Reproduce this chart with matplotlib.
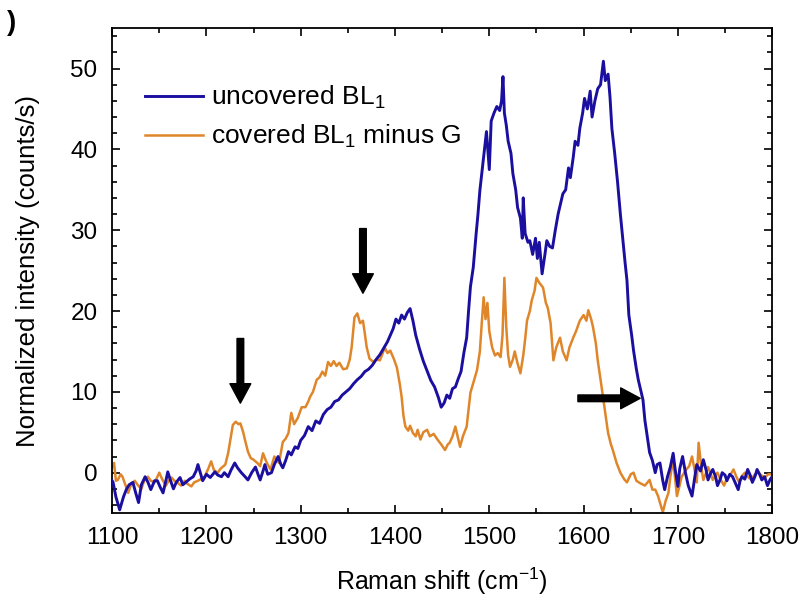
#!/usr/bin/env python3
"""Raman spectra: uncovered BL1 vs covered BL1 minus G."""

import matplotlib
matplotlib.use('Agg')
import matplotlib.pyplot as plt
from matplotlib.ticker import MultipleLocator


# uncovered BL1 (blue)
blue_x = [1100, 1101, 1104, 1108, 1112, 1115, 1118, 1122, 1125, 1128, 1131, 1135, 1138, 1141, 1145,
          1148, 1151, 1154, 1157, 1159, 1162, 1165, 1168, 1172, 1175, 1178, 1182, 1186, 1189, 1191,
          1194, 1196, 1200, 1204, 1209, 1212, 1216, 1219, 1223, 1226, 1230, 1233, 1237, 1241, 1244,
          1248, 1252, 1255, 1257, 1260, 1262, 1265, 1269, 1272, 1276, 1279, 1281, 1284, 1287, 1290,
          1294, 1297, 1300, 1304, 1308, 1312, 1316, 1320, 1324, 1328, 1332, 1336, 1340, 1344, 1348,
          1352, 1356, 1360, 1364, 1368, 1372, 1376, 1380, 1384, 1388, 1392, 1395, 1398, 1401, 1404,
          1407, 1410, 1413, 1416, 1419, 1422, 1426, 1430, 1434, 1438, 1442, 1446, 1449, 1452, 1455,
          1458, 1461, 1464, 1467, 1470, 1473, 1476, 1478, 1480, 1483, 1486, 1488, 1490, 1493, 1495,
          1497, 1500, 1502, 1505, 1508, 1511, 1513, 1514.5, 1516, 1518, 1520, 1523, 1525, 1528, 1530,
          1533, 1535, 1536, 1538, 1541, 1543, 1546, 1549, 1551, 1553, 1556, 1559, 1561, 1564, 1567,
          1570, 1573, 1576, 1578, 1581, 1584, 1586, 1589, 1591, 1594, 1596, 1599, 1601, 1604, 1607,
          1609, 1612, 1615, 1618, 1621, 1623, 1626, 1628, 1630, 1633, 1636, 1639, 1641, 1644, 1646,
          1648, 1651, 1653, 1656, 1658, 1661, 1663, 1665, 1667, 1670, 1673, 1676, 1678, 1681, 1684,
          1686, 1689, 1692, 1695, 1697, 1700, 1702, 1705, 1708, 1711, 1715, 1718, 1720, 1724, 1727,
          1730, 1732, 1735, 1737, 1740, 1742, 1745, 1747, 1750, 1752, 1755, 1758, 1761, 1764, 1766,
          1768, 1771, 1774, 1777, 1779, 1782, 1784, 1787, 1789, 1792, 1795, 1798, 1800]
blue_y = [-1.0, -1.2, -3.0, -4.6, -3.0, -2.1, -1.5, -1.2, -2.5, -3.7, -1.5, -0.5, -1.2, -2.1, -1.0,
          -1.0, -1.8, -2.5, -1.0, 0.1, -1.0, -2.0, -1.2, -0.6, -1.5, -1.2, -0.8, -0.5, 0.2, 1.0,
          -0.2, -1.0, -0.2, -0.6, 0.1, -0.3, -0.5, 0.0, -0.5, 0.3, 1.2, 0.6, 0.0, -0.5, -0.9,
          0.0, 0.7, -0.3, -0.9, 0.2, 1.0, -0.2, 0.0, 1.0, 2.0, 1.0, 0.6, 1.5, 2.6, 2.2,
          3.2, 3.0, 4.0, 4.6, 5.7, 5.2, 6.4, 6.1, 7.2, 7.8, 8.1, 8.8, 9.0, 9.6, 10.0,
          10.4, 11.0, 11.5, 11.9, 12.5, 12.8, 13.3, 14.0, 14.6, 15.4, 16.2, 17.0, 17.8, 19.0, 18.5,
          19.5, 19.0, 19.8, 20.3, 18.8, 17.0, 15.3, 13.8, 12.6, 11.4, 10.6, 9.3, 8.1, 8.6, 9.6,
          9.2, 10.4, 10.6, 11.6, 12.5, 14.8, 16.7, 20.0, 23.0, 25.4, 29.5, 32.0, 34.9, 38.0, 40.0,
          42.2, 37.5, 43.5, 44.5, 45.3, 44.8, 46.0, 49.0, 44.5, 43.0, 41.0, 39.5, 37.0, 35.0, 32.8,
          31.5, 29.0, 34.0, 29.6, 28.5, 28.7, 27.0, 29.0, 26.5, 28.5, 24.6, 27.0, 28.7, 28.0, 27.8,
          30.0, 32.0, 33.5, 34.5, 35.0, 37.7, 36.5, 39.0, 41.0, 40.5, 42.6, 44.5, 46.3, 45.0, 47.2,
          44.0, 46.0, 47.5, 48.0, 50.9, 48.5, 49.3, 46.5, 42.6, 39.5, 36.0, 32.0, 29.6, 26.0, 23.8,
          19.5, 17.0, 15.1, 12.8, 11.5, 10.0, 9.0, 6.5, 4.9, 2.5, 1.5, 0.0, 1.0, 1.2, -1.0,
          -2.1, -0.5, 0.7, 2.4, 0.5, -1.7, 0.5, 2.0, 0.0, -1.6, -2.9, -0.5, 1.0, 0.2, 1.6,
          0.3, -0.9, 0.0, 0.4, -0.5, -1.6, -0.8, 0.0, -0.3, -1.0, -0.2, -0.5, -1.3, -2.1, -1.0,
          -0.5, -0.8, 0.4, -0.4, -1.2, -0.4, 0.4, -0.3, -0.9, -0.5, -1.6, -0.8, -0.5]

# covered BL1 minus G (orange)
orange_x = [1100, 1102, 1104, 1106, 1109, 1111, 1114, 1117, 1120, 1124, 1127, 1131, 1134, 1138, 1141,
            1145, 1148, 1150, 1153, 1157, 1160, 1163, 1166, 1170, 1173, 1177, 1180, 1184, 1187, 1191,
            1194, 1198, 1202, 1205, 1208, 1212, 1215, 1217, 1220, 1223, 1226, 1228, 1231, 1234, 1236,
            1239, 1241, 1244, 1247, 1250, 1254, 1257, 1260, 1263, 1265, 1268, 1272, 1275, 1277, 1281,
            1284, 1287, 1290, 1293, 1297, 1301, 1305, 1308, 1310, 1313, 1317, 1320, 1323, 1326, 1329,
            1332, 1335, 1338, 1341, 1345, 1349, 1352, 1354, 1357, 1360, 1363, 1366, 1368, 1370, 1373,
            1377, 1380, 1384, 1387, 1389, 1392, 1395, 1399, 1402, 1405, 1407, 1409, 1411, 1414, 1416,
            1419, 1422, 1424, 1427, 1430, 1434, 1437, 1441, 1445, 1449, 1453, 1456, 1458, 1461, 1464,
            1467, 1469, 1472, 1476, 1480, 1484, 1487, 1490, 1492, 1494, 1496, 1498, 1500, 1503, 1506,
            1509, 1512, 1514, 1516, 1518, 1520, 1522, 1525, 1527, 1530, 1533, 1536, 1538, 1540, 1543,
            1545, 1548, 1550, 1553, 1557, 1560, 1562, 1565, 1568, 1571, 1575, 1578, 1582, 1585, 1589,
            1592, 1596, 1600, 1603, 1605, 1608, 1610, 1613, 1615, 1618, 1621, 1624, 1626, 1629, 1631,
            1635, 1639, 1643, 1646, 1650, 1653, 1656, 1660, 1665, 1670, 1673, 1676, 1679, 1681, 1684,
            1687, 1690, 1692, 1695, 1699, 1702, 1704, 1709, 1712, 1715, 1718, 1720, 1722, 1725, 1727,
            1730, 1732, 1735, 1737, 1740, 1742, 1745, 1749, 1751, 1754, 1757, 1759, 1762, 1765, 1768,
            1771, 1774, 1778, 1781, 1785, 1788, 1792, 1796, 1800]
orange_y = [0.7, 1.2, -1.0, -0.9, -0.2, -0.5, -1.5, -2.5, -1.5, -1.0, -1.5, -2.0, -1.0, -0.5, -1.0,
            -1.2, -0.5, 0.0, -0.8, -1.6, -1.0, -0.6, -1.0, -1.3, -1.6, -1.0, -1.4, -1.7, -1.2, -1.0,
            -0.8, -0.5, 0.5, 1.4, 0.3, 0.0, 0.5, 0.7, 1.0, 2.4, 4.5, 5.9, 6.3, 6.0, 6.1,
            5.0, 4.0, 2.6, 1.8, 1.6, 1.2, 0.8, 2.4, 1.5, 1.0, 0.4, 2.0, 1.5, 1.2, 3.8,
            4.2, 4.9, 7.4, 6.0, 6.8, 8.1, 8.1, 8.8, 9.4, 10.0, 11.5, 11.8, 12.5, 12.0, 13.7,
            13.2, 13.8, 13.2, 13.6, 12.8, 12.9, 14.0, 15.5, 19.2, 19.7, 18.5, 18.8, 17.2, 15.5, 14.1,
            13.7, 14.0, 13.9, 14.8, 15.5, 14.8, 15.1, 14.0, 13.0, 11.0, 9.4, 7.0, 5.7, 5.2, 5.8,
            4.9, 4.5, 5.3, 4.1, 5.0, 5.3, 4.5, 4.8, 4.1, 3.5, 2.8, 3.5, 3.7, 4.5, 5.7,
            4.2, 3.2, 4.5, 5.7, 9.9, 11.5, 12.7, 15.0, 18.5, 21.7, 19.0, 21.0, 17.5, 15.5, 14.5,
            14.8, 14.3, 17.0, 24.1, 18.0, 14.5, 13.1, 14.0, 15.0, 13.5, 12.3, 14.5, 16.5, 18.8, 20.0,
            21.3, 22.5, 24.1, 23.5, 22.9, 21.0, 20.4, 18.5, 13.9, 15.5, 16.7, 15.0, 13.9, 15.5, 16.7,
            17.5, 18.8, 19.5, 18.8, 20.1, 19.0, 18.0, 16.0, 13.9, 11.5, 9.0, 6.5, 4.9, 3.5, 2.8,
            1.2, 0.0, -0.8, -1.2, -0.2, 0.0, -1.0, -1.3, -1.6, -0.9, -2.1, -2.1, -2.9, -3.7, -4.9,
            -3.5, -2.5, -0.5, 1.6, -2.9, -1.5, -0.5, 0.4, 0.8, 2.0, 0.2, -1.2, 3.7, 0.5, -0.9,
            0.0, 0.7, -0.2, -0.9, -0.3, 0.0, -0.8, -1.6, -1.0, -0.5, 0.0, 0.4, -0.5, -1.2, -0.4,
            0.0, -0.5, -0.9, -0.3, 0.1, -0.3, -0.6, -0.2, -0.2]

# arrows: (tail x, tail y, tip x, tip y)
arrows = [(1236, 16.6, 1236, 8.6),
          (1366, 30.2, 1366, 22.2),
          (1594, 9.2, 1660, 9.2)]

BLUE = '#1b0fa0'
ORANGE = '#e0862a'

plt.rcParams['font.family'] = ['Liberation Sans', 'DejaVu Sans']
plt.rcParams['mathtext.fontset'] = 'custom'
plt.rcParams['mathtext.rm'] = 'Liberation Sans'
plt.rcParams['mathtext.it'] = 'Liberation Sans:italic'


def main():
    fig = plt.figure(figsize=(8.01, 5.98), dpi=100)
    ax = fig.add_axes([0.140, 0.142, 0.824, 0.811])

    ax.plot(blue_x, blue_y, color=BLUE, linewidth=2.1, label='uncovered BL$_1$', zorder=3)
    ax.plot(orange_x, orange_y, color=ORANGE, linewidth=1.8, label='covered BL$_1$ minus G', zorder=2)

    for x0, y0, x1, y1 in arrows:
        ax.annotate('', xy=(x1, y1), xytext=(x0, y0),
                    arrowprops=dict(facecolor='black', edgecolor='black',
                                    width=4.8, headwidth=15, headlength=14), zorder=5)

    ax.set_xlim(1100, 1800)
    ax.set_ylim(-5, 55)
    ax.xaxis.set_major_locator(MultipleLocator(100))
    ax.xaxis.set_minor_locator(MultipleLocator(50))
    ax.yaxis.set_major_locator(MultipleLocator(10))
    ax.yaxis.set_minor_locator(MultipleLocator(2))
    ax.tick_params(which='both', direction='in', top=True, right=True, labelsize=17.5, width=1.2)
    ax.tick_params(which='major', length=6)
    ax.tick_params(which='minor', length=3.5)
    ax.tick_params(axis='x', which='both', pad=10)
    ax.tick_params(axis='y', which='both', pad=10.5)
    for sp in ax.spines.values():
        sp.set_linewidth(1.3)

    ax.set_xlabel('Raman shift (cm$^{-1}$)', fontsize=18, labelpad=12)
    ax.set_ylabel('Normalized intensity (counts/s)', fontsize=18.5, labelpad=22)

    ax.legend(loc='upper left', bbox_to_anchor=(0.05, 0.885), frameon=False, fontsize=19,
              handlelength=2.2, handletextpad=0.3, labelspacing=0.45,
              borderpad=0, borderaxespad=0)

    fig.text(0.014, 0.962, ')', fontsize=20, fontweight='bold', va='center', ha='center')

    fig.savefig('out.png', dpi=100)


if __name__ == '__main__':
    main()
